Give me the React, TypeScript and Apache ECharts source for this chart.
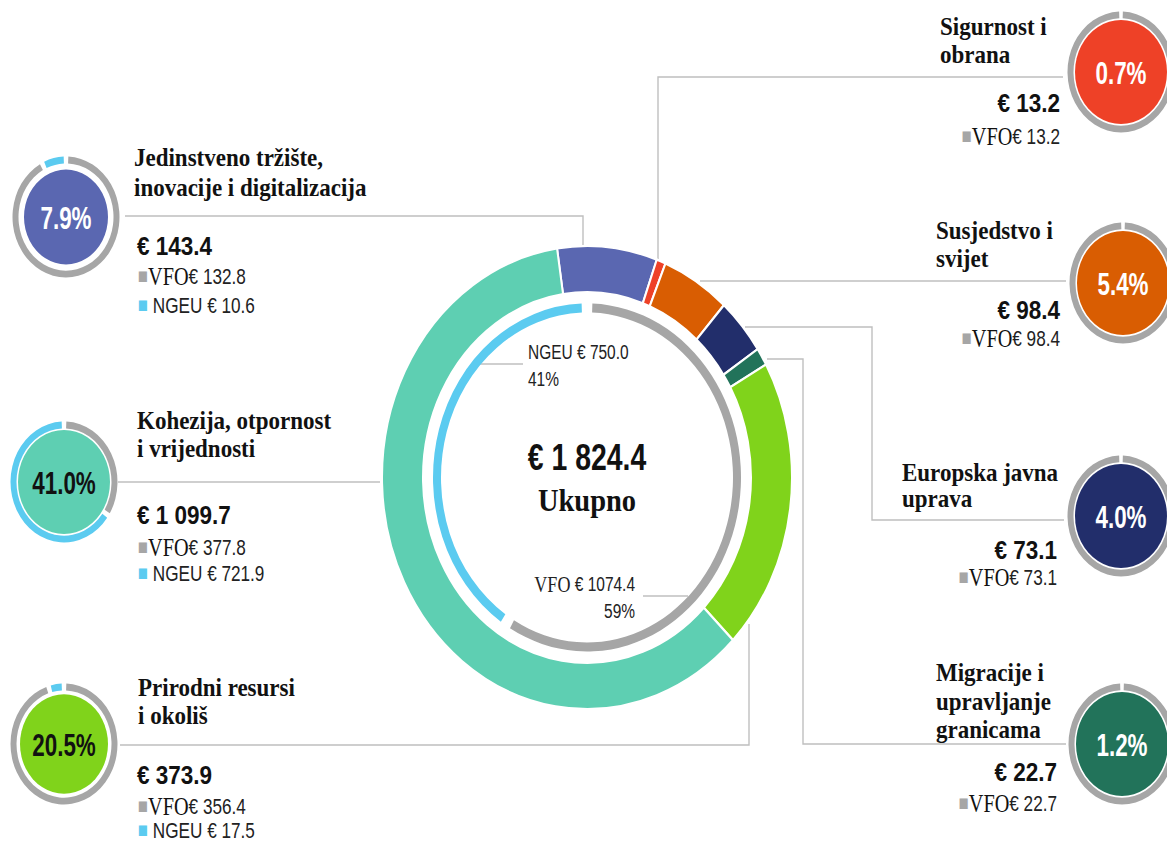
import React, { useEffect, useRef } from 'react';
import * as echarts from 'echarts';

// ---------- data ----------
const categories = [
  'Jedinstveno tržište, inovacije i digitalizacija',
  'Sigurnost i obrana',
  'Susjedstvo i svijet',
  'Europska javna uprava',
  'Migracije i upravljanje granicama',
  'Prirodni resursi i okoliš',
  'Kohezija, otpornost i vrijednosti',
];
const titleLines = [
  ['Jedinstveno tržište,', 'inovacije i digitalizacija'],
  ['Sigurnost i', 'obrana'],
  ['Susjedstvo i', 'svijet'],
  ['Europska javna', 'uprava'],
  ['Migracije i', 'upravljanje', 'granicama'],
  ['Prirodni resursi', 'i okoliš'],
  ['Kohezija, otpornost', 'i vrijednosti'],
];
const totals = [143.4, 13.2, 98.4, 73.1, 22.7, 373.9, 1099.7];
const vfoValues = [132.8, 13.2, 98.4, 73.1, 22.7, 356.4, 377.8];
const ngeuValues = [10.6, 0, 0, 0, 0, 17.5, 721.9];
const shareLabels = ['7.9%', '0.7%', '5.4%', '4.0%', '1.2%', '20.5%', '41.0%'];
const fundNames = ['VFO', 'NGEU'];
const fundValues = [1074.4, 750.0];
const fundShares = ['59%', '41%'];
const grandTotal = 1824.4;
const totalLabel = 'Ukupno';

// ---------- styles / layout ----------
const K = 1.13; // vertical stretch of the picture
const W = 1167;
const H = 843;
const y = (v: number) => v / K;

const catColors = ['#5A67B1', '#EE4127', '#D95D02', '#222E6B', '#22735A', '#80D31B', '#5ECFB2'];
const pctColors = ['#fff', '#fff', '#fff', '#fff', '#fff', '#111', '#111'];
const VFO_C = '#A6A6A6';
const NGEU_C = '#5BCBF0';
const LINE_C = '#BFBFBF';
const SANS = "'Liberation Sans', Arial, sans-serif";
const SERIF = "'Liberation Serif', 'Times New Roman', serif";

const layout = [
  { cx: 66, cy: 217, fr: 42, side: 'L', tx: 134, ty: [157, 187], vx: 137, vy: 246, fy: [276, 305] },
  { cx: 1121, cy: 72, fr: 46, side: 'R', tx: 940, ty: [26, 54], vx: 1060, vy: 103, fy: [136] },
  { cx: 1123, cy: 283, fr: 46, side: 'R', tx: 936, ty: [230, 258], vx: 1060, vy: 310, fy: [338] },
  { cx: 1121, cy: 516, fr: 46, side: 'R', tx: 902, ty: [472, 498], vx: 1057, vy: 550, fy: [577] },
  { cx: 1122, cy: 744, fr: 46, side: 'R', tx: 936, ty: [672, 701, 729], vx: 1057, vy: 772, fy: [803] },
  { cx: 64, cy: 744, fr: 44, side: 'L', tx: 138, ty: [687, 715], vx: 137, vy: 775, fy: [806, 830] },
  { cx: 64, cy: 482, fr: 46, side: 'L', tx: 137, ty: [420, 448], vx: 137, vy: 515, fy: [547, 573] },
];

const leaderLines: number[][][] = [
  [[125, 216], [583, 216], [583, 246]],
  [[658, 259], [658, 77], [1063, 77]],
  [[700, 281], [1066, 281]],
  [[745, 327], [872, 327], [872, 520], [1064, 520]],
  [[767, 359], [803, 359], [803, 744], [1066, 744]],
  [[749, 624], [749, 745], [120, 745]],
  [[118, 482], [380, 482]],
  [[478, 364], [523, 364]],
  [[643, 596], [688, 596]],
];

const fmt = (v: number) => {
  const [a, b] = v.toFixed(1).split('.');
  return a.replace(/\B(?=(\d{3})+(?!\d))/g, ' ') + '.' + b;
};

function buildOption() {
  const MC: [number, number] = [587, y(477.5)];
  const series: any[] = [];
  series.push({
    type: 'pie',
    center: MC,
    radius: [164, 205],
    startAngle: 98.4,
    clockwise: true,
    silent: true,
    label: { show: false },
    labelLine: { show: false },
    itemStyle: { borderColor: '#fff', borderWidth: 2 },
    data: categories.map((c, i) => ({ name: c, value: totals[i], itemStyle: { color: catColors[i] } })),
  });
  series.push({
    type: 'pie',
    center: MC,
    radius: [146, 154],
    startAngle: 90,
    padAngle: 4,
    silent: true,
    label: { show: false },
    labelLine: { show: false },
    data: fundNames.map((n, i) => ({ name: n, value: fundValues[i], itemStyle: { color: i === 0 ? VFO_C : NGEU_C } })),
  });
  categories.forEach((c, i) => {
    const L = layout[i];
    const ring: any = {
      type: 'pie',
      center: [L.cx, y(L.cy)],
      radius: [47.5, 53.5],
      silent: true,
      label: { show: false },
      labelLine: { show: false },
    };
    if (ngeuValues[i] > 0) {
      ring.startAngle = 90;
      ring.padAngle = 5;
      ring.data = [
        { name: 'VFO', value: vfoValues[i], itemStyle: { color: VFO_C } },
        { name: 'NGEU', value: ngeuValues[i], itemStyle: { color: NGEU_C } },
      ];
    } else {
      ring.startAngle = 88;
      ring.endAngle = -268;
      ring.data = [{ name: 'VFO', value: vfoValues[i], itemStyle: { color: VFO_C } }];
    }
    series.push(ring);
    series.push({
      type: 'pie',
      center: [L.cx, y(L.cy)],
      radius: [0, L.fr],
      silent: true,
      label: { show: false },
      labelLine: { show: false },
      data: [{ name: c, value: totals[i], itemStyle: { color: catColors[i] } }],
    });
  });

  const graphic: any[] = [];
  leaderLines.forEach((pts) => {
    graphic.push({
      type: 'polyline',
      silent: true,
      z: 0,
      shape: { points: pts.map(([a, b]) => [a, y(b)]) },
      style: { stroke: LINE_C, lineWidth: 1.4, fill: null },
    });
  });
  const text = (x: number, yy: number, style: any, scaleX = 1) => {
    graphic.push({
      type: 'text',
      x,
      y: y(yy),
      scaleX,
      z: 100,
      silent: true,
      style: { verticalAlign: 'middle', ...style },
    });
  };
  const richRow = {
    sq: { fontFamily: SANS, fontSize: 19, fill: VFO_C },
    sqb: { fontFamily: SANS, fontSize: 19, fill: NGEU_C },
    v: { fontFamily: SERIF, fontSize: 23, fill: '#111' },
    n: { fontFamily: SANS, fontSize: 19.5, fill: '#222' },
  };
  categories.forEach((c, i) => {
    const L = layout[i];
    const align = L.side === 'L' ? 'left' : 'right';
    // percent in circle
    text(L.cx, L.cy + 1, {
      text: shareLabels[i], align: 'center', fontFamily: SANS, fontWeight: 'bold', fontSize: 28, fill: pctColors[i],
    }, 0.8);
    // title
    titleLines[i].forEach((t, j) => {
      text(L.tx, L.ty[j], { text: t, align: 'left', fontFamily: SERIF, fontWeight: 'bold', fontSize: 23, fill: '#111' });
    });
    // value
    text(L.vx, L.vy, {
      text: '€ ' + fmt(totals[i]), align, fontFamily: SANS, fontWeight: 'bold', fontSize: 22.5, fill: '#111',
    });
    // VFO row
    text(L.side === 'L' ? L.vx + 1 : L.vx, L.fy[0], {
      text: `{sq|■}{v|VFO}{n|€ ${fmt(vfoValues[i])}}`, align, rich: richRow,
    }, 0.88);
    if (ngeuValues[i] > 0 && L.fy[1] !== undefined) {
      text(L.vx + 1, L.fy[1], {
        text: `{sqb|■}{n| NGEU € ${fmt(ngeuValues[i])}}`, align, rich: richRow,
      }, 0.88);
    }
  });
  // center
  text(587, 457, { text: '€ ' + fmt(grandTotal), align: 'center', fontFamily: SANS, fontWeight: 'bold', fontSize: 33, fill: '#111' }, 0.86);
  text(587, 500, { text: totalLabel, align: 'center', fontFamily: SERIF, fontWeight: 'bold', fontSize: 28.5, fill: '#111' });
  // inner ring labels
  text(528, 352, { text: `${fundNames[1]} € ${fundValues[1].toFixed(1)}`, align: 'left', fontFamily: SANS, fontSize: 18, fill: '#222' }, 0.86);
  text(528, 379, { text: fundShares[1], align: 'left', fontFamily: SANS, fontSize: 18, fill: '#222' }, 0.86);
  text(635, 584, {
    text: `{v|${fundNames[0]}}{n| € ${fundValues[0].toFixed(1)}}`, align: 'right',
    rich: { v: { fontFamily: SERIF, fontSize: 21, fill: '#222' }, n: { fontFamily: SANS, fontSize: 18, fill: '#222' } },
  }, 0.86);
  text(635, 611, { text: fundShares[0], align: 'right', fontFamily: SANS, fontSize: 18, fill: '#222' }, 0.86);

  return { animation: false, backgroundColor: '#fff', series, graphic };
}

export default function App() {
  const ref = useRef<HTMLDivElement>(null);
  useEffect(() => {
    const chart = echarts.init(ref.current!, null, { renderer: 'svg', width: W, height: H / K });
    chart.setOption(buildOption() as any);
    return () => chart.dispose();
  }, []);
  return (
    <div style={{ position: 'absolute', left: 0, top: 0, width: W, height: H, overflow: 'hidden', background: '#fff' }}>
      <div
        ref={ref}
        style={{ width: W, height: H / K, transform: `scaleY(${K})`, transformOrigin: '0 0' }}
      />
    </div>
  );
}
